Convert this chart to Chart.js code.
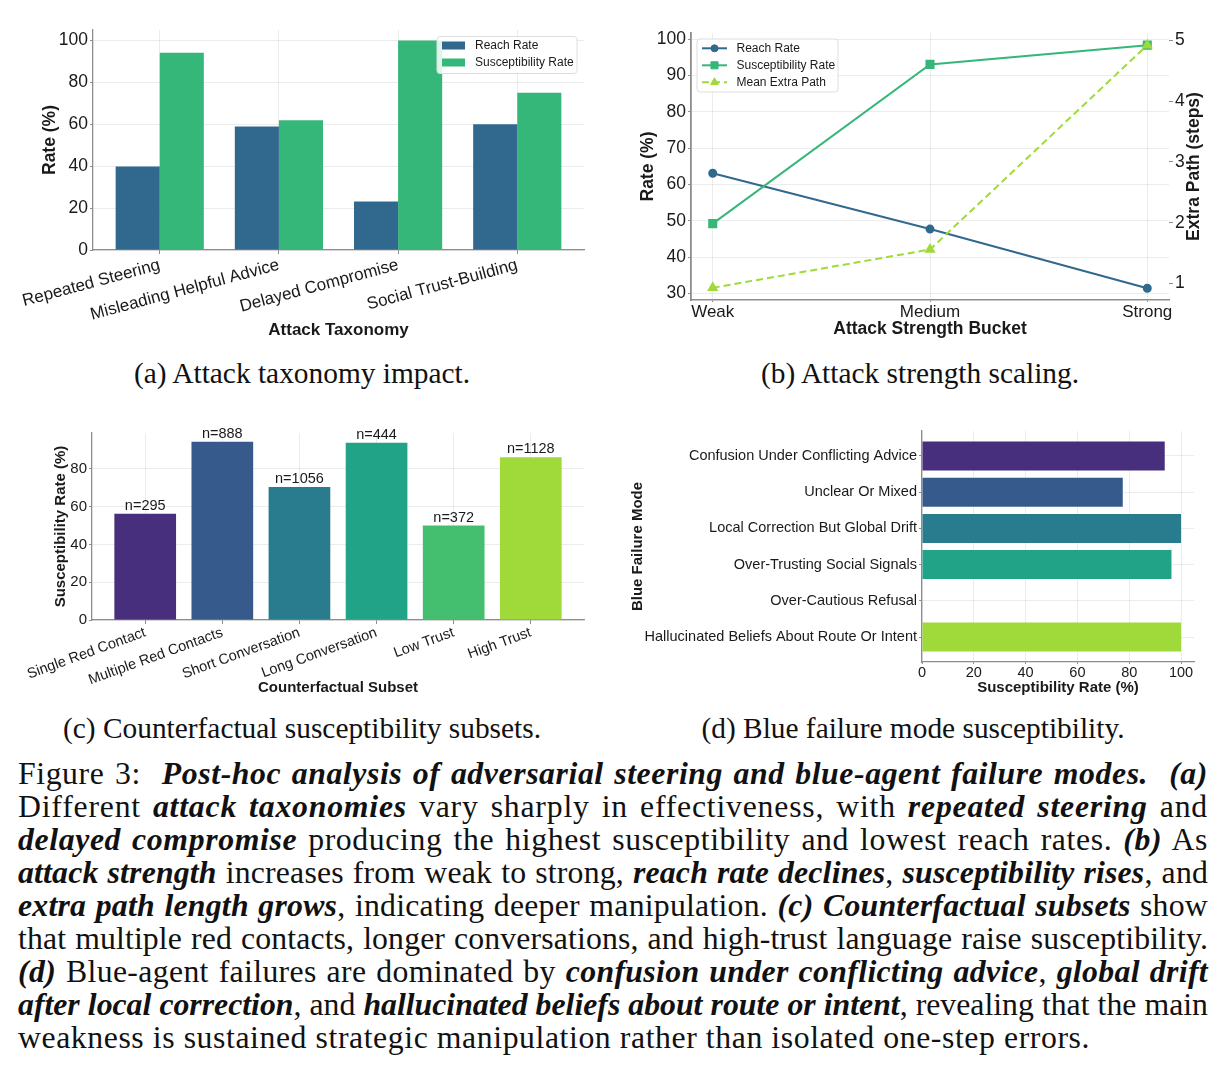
<!DOCTYPE html>
<html><head><meta charset="utf-8">
<script src="https://cdn.jsdelivr.net/npm/chart.js@4.4.1/dist/chart.umd.min.js"></script>
<style>
html,body{margin:0;padding:0;background:#fff;}
body{width:1227px;height:1072px;position:relative;overflow:hidden;}
canvas.cv{position:absolute;}
.sub{position:absolute;font-family:'Liberation Serif','Times New Roman',serif;white-space:nowrap;line-height:1;transform:translate(-50%,-50%);color:#111;}
#cap{position:absolute;left:18px;top:757px;width:1190px;font-family:'Liberation Serif','Times New Roman',serif;color:#111;}
#cap .ln{display:block;width:1190px;height:33px;line-height:33px;text-align:left;}
#cap.just .ln{text-align:justify;text-align-last:justify;}
#cap.just .ln.last{text-align-last:left;}
#cap b{font-style:italic;font-weight:bold;}
</style></head><body>
<canvas id="chartA" class="cv" style="left:0px;top:0px;width:610px;height:345px" width="610" height="345"></canvas>
<canvas id="chartB" class="cv" style="left:620px;top:0px;width:607px;height:345px" width="607" height="345"></canvas>
<canvas id="chartC" class="cv" style="left:0px;top:400px;width:610px;height:300px" width="610" height="300"></canvas>
<canvas id="chartD" class="cv" style="left:620px;top:400px;width:607px;height:300px" width="607" height="300"></canvas>

<div class="sub" data-w="337" style="left:302px;top:374px">(a) Attack taxonomy impact.</div>
<div class="sub" data-w="319" style="left:920px;top:374px">(b) Attack strength scaling.</div>
<div class="sub" data-w="480" style="left:302px;top:729px">(c) Counterfactual susceptibility subsets.</div>
<div class="sub" data-w="420" style="left:913px;top:729px">(d) Blue failure mode susceptibility.</div>

<div id="cap">
<div class="ln"><span>Figure 3: &nbsp;<b>Post-hoc analysis of adversarial steering and blue-agent failure modes.</b> &nbsp;<b>(a)</b></span></div>
<div class="ln"><span>Different <b>attack taxonomies</b> vary sharply in effectiveness, with <b>repeated steering</b> and</span></div>
<div class="ln"><span><b>delayed compromise</b> producing the highest susceptibility and lowest reach rates. <b>(b)</b> As</span></div>
<div class="ln"><span><b>attack strength</b> increases from weak to strong, <b>reach rate declines</b>, <b>susceptibility rises</b>, and</span></div>
<div class="ln"><span><b>extra path length grows</b>, indicating deeper manipulation. <b>(c) Counterfactual subsets</b> show</span></div>
<div class="ln"><span>that multiple red contacts, longer conversations, and high-trust language raise susceptibility.</span></div>
<div class="ln"><span><b>(d)</b> Blue-agent failures are dominated by <b>confusion under conflicting advice</b>, <b>global drift</b></span></div>
<div class="ln"><span><b>after local correction</b>, and <b>hallucinated beliefs about route or intent</b>, revealing that the main</span></div>
<div class="ln last"><span>weakness is sustained strategic manipulation rather than isolated one-step errors.</span></div>
</div>

<script>
// ---------------- DATA ----------------
const taxonomyCategories = ['Repeated Steering', 'Misleading Helpful Advice', 'Delayed Compromise', 'Social Trust-Building'];
const taxonomyReach = [39.9, 58.9, 23.1, 60.0];
const taxonomySusceptibility = [94.1, 61.9, 100.0, 75.1];
const rateTicksA = [0, 20, 40, 60, 80, 100];

const strengthBuckets = ['Weak', 'Medium', 'Strong'];
const strengthReach = [63.1, 47.7, 31.4];
const strengthSusceptibility = [49.2, 93.1, 98.4];
const strengthExtraPath = [0.93, 1.56, 4.92];
const rateTicksB = [30, 40, 50, 60, 70, 80, 90, 100];
const extraPathTicks = [1, 2, 3, 4, 5];

const subsetCategories = ['Single Red Contact', 'Multiple Red Contacts', 'Short Conversation', 'Long Conversation', 'Low Trust', 'High Trust'];
const subsetSusceptibility = [56.2, 94.4, 70.4, 93.9, 50.0, 86.2];
const subsetCounts = [295, 888, 1056, 444, 372, 1128];
const rateTicksC = [0, 20, 40, 60, 80];

const failureModes = ['Confusion Under Conflicting Advice', 'Unclear Or Mixed', 'Local Correction But Global Drift', 'Over-Trusting Social Signals', 'Over-Cautious Refusal', 'Hallucinated Beliefs About Route Or Intent'];
const failureSusceptibility = [93.7, 77.5, 100.0, 96.3, 0.0, 100.0];
const rateTicksD = [0, 20, 40, 60, 80, 100];

// ---------------- STYLE ----------------
const FONT = "'Liberation Sans', Arial, Helvetica, sans-serif";
const GRID = 'rgba(0,0,0,0.075)';
const SPINE = '#8d8d8d';
const TICKC = '#8d8d8d';
const TXT = '#1a1a1a';
const BLUE = '#31688e', GREEN = '#35b779', LIME = '#9fda3a';
const PALETTE6 = ['#472f7d', '#375a8c', '#287c8e', '#20a386', '#44bf70', '#9fda3a'];

Chart.defaults.font.family = FONT;
Chart.defaults.color = TXT;

const setTicks = vals => s => { s.ticks = vals.map(v => ({ value: v })); };
const fixW = w => s => { s.width = w; };
const fixH = h => s => { s.height = h; };

const insetLegendPlugin = {
  id: 'insetLegend',
  afterDraw(chart, args, o) {
    if (!o || !o.width) return;
    const ctx = chart.ctx, ca = chart.chartArea;
    const ds = chart.data.datasets;
    ctx.save();
    const x0 = o.corner === 'right' ? ca.right - o.dx - o.width : ca.left + o.dx;
    const y0 = ca.top + o.dy;
    ctx.beginPath();
    if (ctx.roundRect) ctx.roundRect(x0, y0, o.width, o.height, 3); else ctx.rect(x0, y0, o.width, o.height);
    ctx.fillStyle = 'rgba(255,255,255,0.85)'; ctx.fill();
    ctx.strokeStyle = '#dedede'; ctx.lineWidth = 1; ctx.stroke();
    ctx.font = o.fontSize + 'px ' + FONT;
    ds.forEach((d, i) => {
      const cy = y0 + o.firstRow + i * o.rowGap;
      const sx = x0 + o.padLeft;
      if (o.kind === 'patch') {
        ctx.fillStyle = d.backgroundColor;
        ctx.fillRect(sx, cy - o.patchH / 2, o.sampleW, o.patchH);
      } else {
        ctx.strokeStyle = d.borderColor; ctx.lineWidth = d.borderWidth;
        ctx.setLineDash(d.borderDash || []);
        ctx.beginPath(); ctx.moveTo(sx, cy); ctx.lineTo(sx + o.sampleW, cy); ctx.stroke();
        ctx.setLineDash([]);
        ctx.fillStyle = d.backgroundColor; ctx.strokeStyle = d.borderColor; ctx.lineWidth = 1;
        Chart.helpers.drawPoint(ctx, { pointStyle: d.pointStyle, radius: d.pointRadius, rotation: 0, borderWidth: 1 }, sx + o.sampleW / 2, cy);
      }
      ctx.fillStyle = TXT; ctx.textBaseline = 'middle'; ctx.textAlign = 'left';
      ctx.fillText(d.label, sx + o.sampleW + o.textGap, cy);
    });
    ctx.restore();
  }
};

const rightTitlePlugin = {
  id: 'rightTitle',
  afterDraw(chart, args, o) {
    if (!o || !o.text) return;
    const ctx = chart.ctx, ca = chart.chartArea;
    ctx.save();
    ctx.translate(o.x, (ca.top + ca.bottom) / 2);
    ctx.rotate(-Math.PI / 2);
    ctx.font = 'bold ' + o.size + 'px ' + FONT;
    ctx.fillStyle = TXT; ctx.textAlign = 'center'; ctx.textBaseline = 'middle';
    ctx.fillText(o.text, 0, 0);
    ctx.restore();
  }
};

const barCountPlugin = {
  id: 'barCounts',
  afterDatasetsDraw(chart, args, o) {
    if (!o || !o.counts) return;
    const ctx = chart.ctx;
    const meta = chart.getDatasetMeta(0);
    ctx.save();
    ctx.font = o.size + 'px ' + FONT;
    ctx.fillStyle = TXT; ctx.textAlign = 'center'; ctx.textBaseline = 'alphabetic';
    meta.data.forEach((bar, i) => ctx.fillText('n=' + o.counts[i], bar.x, bar.y - o.gap));
    ctx.restore();
  }
};

const common = { responsive: false, animation: false, events: [] };

// ---------------- (a) ----------------
new Chart(document.getElementById('chartA'), {
  type: 'bar',
  data: {
    datasets: [
      { label: 'Reach Rate', data: taxonomyCategories.map((c, i) => ({ x: i, y: taxonomyReach[i] })), backgroundColor: BLUE },
      { label: 'Susceptibility Rate', data: taxonomyCategories.map((c, i) => ({ x: i, y: taxonomySusceptibility[i] })), backgroundColor: GREEN }
    ]
  },
  options: Object.assign({}, common, {
    layout: { padding: { left: 0, top: 30, right: 26, bottom: 0 } },
    datasets: { bar: { categoryPercentage: 0.74, barPercentage: 1.0 } },
    plugins: {
      legend: { display: false }, tooltip: { enabled: false },
      insetLegend: { corner: 'right', dx: 7, dy: 6.5, width: 140, height: 37, firstRow: 9, rowGap: 17, padLeft: 5, sampleW: 23, patchH: 8, textGap: 10, fontSize: 12, kind: 'patch' }
    },
    scales: {
      x: {
        type: 'linear', min: -0.56, max: 3.56, offset: false,
        afterBuildTicks: setTicks(taxonomyCategories.map((c, i) => i)), afterFit: fixH(95),
        ticks: { autoSkip: false, minRotation: 15, maxRotation: 15, padding: 1, font: { size: 17 }, color: TXT, callback: v => taxonomyCategories[v] },
        grid: { color: GRID, offset: false, tickLength: 4, tickColor: TICKC },
        border: { color: SPINE, width: 1.3 },
        title: { display: true, text: 'Attack Taxonomy', font: { size: 17, weight: 'bold' }, color: TXT, padding: { top: 0, bottom: 4 } }
      },
      y: {
        type: 'linear', min: 0, max: 105,
        afterBuildTicks: setTicks(rateTicksA), afterFit: fixW(93),
        ticks: { padding: 2, font: { size: 17.5 }, color: TXT },
        grid: { color: GRID, tickLength: 3, tickColor: TICKC },
        border: { color: SPINE, width: 1.3 },
        title: { display: true, text: 'Rate (%)', font: { size: 17.5, weight: 'bold' }, color: TXT, padding: { top: 40, bottom: 0 } }
      }
    }
  }),
  plugins: [insetLegendPlugin]
});

// ---------------- (b) ----------------
new Chart(document.getElementById('chartB'), {
  type: 'line',
  data: {
    datasets: [
      { label: 'Reach Rate', data: strengthBuckets.map((b, i) => ({ x: i, y: strengthReach[i] })), borderColor: BLUE, backgroundColor: BLUE, borderWidth: 2, pointStyle: 'circle', pointRadius: 3.5, yAxisID: 'y', order: 2 },
      { label: 'Susceptibility Rate', data: strengthBuckets.map((b, i) => ({ x: i, y: strengthSusceptibility[i] })), borderColor: GREEN, backgroundColor: GREEN, borderWidth: 2, pointStyle: 'rect', pointRadius: 5, yAxisID: 'y', order: 1 },
      { label: 'Mean Extra Path', data: strengthBuckets.map((b, i) => ({ x: i, y: strengthExtraPath[i] })), borderColor: LIME, backgroundColor: LIME, borderWidth: 2, borderDash: [7, 4], pointStyle: 'triangle', pointRadius: 4.5, yAxisID: 'y1', order: 0 }
    ]
  },
  options: Object.assign({}, common, {
    layout: { padding: { left: 0, top: 33, right: 0, bottom: 0 } },
    plugins: {
      legend: { display: false }, tooltip: { enabled: false },
      insetLegend: { corner: 'left', dx: 6, dy: 6, width: 141, height: 53, firstRow: 9.3, rowGap: 17, padLeft: 5, sampleW: 25, textGap: 9.5, fontSize: 12, kind: 'line' },
      rightTitle: { text: 'Extra Path (steps)', x: 574, size: 17.5 }
    },
    scales: {
      x: {
        type: 'linear', min: -0.1, max: 2.1, offset: false,
        afterBuildTicks: setTicks(strengthBuckets.map((b, i) => i)), afterFit: fixH(45),
        ticks: { autoSkip: false, maxRotation: 0, padding: 0, font: { size: 17 }, color: TXT, callback: v => strengthBuckets[v] },
        grid: { color: GRID, tickLength: 2, tickColor: TICKC },
        border: { color: SPINE, width: 1.5 },
        title: { display: true, text: 'Attack Strength Bucket', font: { size: 17.5, weight: 'bold' }, color: TXT, padding: { top: 0, bottom: 5 } }
      },
      y: {
        type: 'linear', position: 'left', min: 28.15, max: 101.75,
        afterBuildTicks: setTicks(rateTicksB), afterFit: fixW(71),
        ticks: { padding: 2, font: { size: 17.5 }, color: TXT },
        grid: { color: GRID, tickLength: 3, tickColor: TICKC },
        border: { color: SPINE, width: 1.8 },
        title: { display: true, text: 'Rate (%)', font: { size: 17.5, weight: 'bold' }, color: TXT, padding: { top: 18, bottom: 0 } }
      },
      y1: {
        type: 'linear', position: 'right', min: 0.73, max: 5.12,
        afterBuildTicks: setTicks(extraPathTicks), afterFit: fixW(58),
        ticks: { padding: 2, font: { size: 17.5 }, color: TXT },
        grid: { drawOnChartArea: false, tickLength: 4, tickColor: TICKC },
        border: { display: false }
      }
    }
  }),
  plugins: [insetLegendPlugin, rightTitlePlugin]
});

// ---------------- (c) ----------------
new Chart(document.getElementById('chartC'), {
  type: 'bar',
  data: {
    datasets: [
      { label: 'Susceptibility Rate', data: subsetCategories.map((c, i) => ({ x: i, y: subsetSusceptibility[i] })), backgroundColor: PALETTE6 }
    ]
  },
  options: Object.assign({}, common, {
    layout: { padding: { left: 0, top: 33, right: 26, bottom: 0 } },
    datasets: { bar: { categoryPercentage: 0.8, barPercentage: 1.0 } },
    plugins: {
      legend: { display: false }, tooltip: { enabled: false },
      barCounts: { counts: subsetCounts, size: 14.5, gap: 4 }
    },
    scales: {
      x: {
        type: 'linear', min: -0.69, max: 5.69, offset: false,
        afterBuildTicks: setTicks(subsetCategories.map((c, i) => i)), afterFit: fixH(80),
        ticks: { autoSkip: false, minRotation: 20, maxRotation: 20, padding: 0, font: { size: 14.5 }, color: TXT, callback: v => subsetCategories[v] },
        grid: { color: GRID, offset: false, tickLength: 4, tickColor: TICKC },
        border: { color: SPINE, width: 1.3 },
        title: { display: true, text: 'Counterfactual Subset', font: { size: 15, weight: 'bold' }, color: TXT, padding: { top: 0, bottom: 3 } }
      },
      y: {
        type: 'linear', min: 0, max: 99,
        afterBuildTicks: setTicks(rateTicksC), afterFit: fixW(92),
        ticks: { padding: 2, font: { size: 15 }, color: TXT },
        grid: { color: GRID, tickLength: 3, tickColor: TICKC },
        border: { color: SPINE, width: 1.3 },
        title: { display: true, text: 'Susceptibility Rate (%)', font: { size: 15, weight: 'bold' }, color: TXT, padding: { top: 52, bottom: 0 } }
      }
    }
  }),
  plugins: [barCountPlugin]
});

// ---------------- (d) ----------------
new Chart(document.getElementById('chartD'), {
  type: 'bar',
  data: {
    datasets: [
      { label: 'Susceptibility Rate', data: failureModes.map((m, i) => ({ x: failureSusceptibility[i], y: i })), backgroundColor: PALETTE6 }
    ]
  },
  options: Object.assign({}, common, {
    indexAxis: 'y',
    layout: { padding: { left: 0, top: 31, right: 33, bottom: 0 } },
    datasets: { bar: { categoryPercentage: 0.8, barPercentage: 1.0 } },
    plugins: { legend: { display: false }, tooltip: { enabled: false } },
    scales: {
      x: {
        type: 'linear', min: 0, max: 105,
        afterBuildTicks: setTicks(rateTicksD), afterFit: fixH(38),
        ticks: { padding: 0, font: { size: 14.5 }, color: TXT, maxRotation: 0 },
        grid: { color: GRID, tickLength: 2, tickColor: TICKC },
        border: { color: SPINE, width: 1.3 },
        title: { display: true, text: 'Susceptibility Rate (%)', font: { size: 15, weight: 'bold' }, color: TXT, padding: { top: 0, bottom: 3 } }
      },
      y: {
        type: 'linear', min: -0.69, max: 5.69, reverse: true, offset: false,
        afterBuildTicks: setTicks(failureModes.map((m, i) => i)), afterFit: fixW(302),
        ticks: { autoSkip: false, padding: 2, font: { size: 14.5 }, color: TXT, callback: v => failureModes[v] },
        grid: { color: GRID, offset: false, tickLength: 3, tickColor: TICKC },
        border: { color: SPINE, width: 1.3 },
        title: { display: true, text: 'Blue Failure Mode', font: { size: 15, weight: 'bold' }, color: TXT, padding: { top: 9, bottom: 0 } }
      }
    }
  })
});

// ---------------- captions ----------------
(function () {
  const subs = Array.from(document.querySelectorAll('.sub'));
  subs.forEach(s => s.style.fontSize = '24px');
  let ratio = 0;
  subs.forEach(s => { ratio += (+s.dataset.w) / s.getBoundingClientRect().width; });
  ratio /= subs.length;
  subs.forEach(s => s.style.fontSize = (24 * ratio).toFixed(2) + 'px');

  const cap = document.getElementById('cap');
  const base = 30;
  cap.style.fontSize = base + 'px';
  const lines = Array.from(cap.querySelectorAll('.ln'));
  let maxW = 0;
  lines.forEach((l, i) => { if (i < lines.length - 1) maxW = Math.max(maxW, l.firstElementChild.getBoundingClientRect().width); });
  const fs = Math.floor(base * 1188 / maxW * 100) / 100;
  cap.style.fontSize = fs + 'px';
  // spread part of each line's slack as letter-spacing so word gaps stay natural
  lines.forEach((l, i) => {
    const span = l.firstElementChild;
    const w = span.getBoundingClientRect().width;
    const n = span.textContent.length;
    const target = (i === lines.length - 1) ? 1072 : 1186;
    const share = (i === lines.length - 1) ? 1.0 : 0.7;
    const ls = Math.max(0, Math.min(1.3, (target - w) * share / n));
    l.style.letterSpacing = ls.toFixed(3) + 'px';
  });
  cap.classList.add('just');
})();
</script>
</body></html>
